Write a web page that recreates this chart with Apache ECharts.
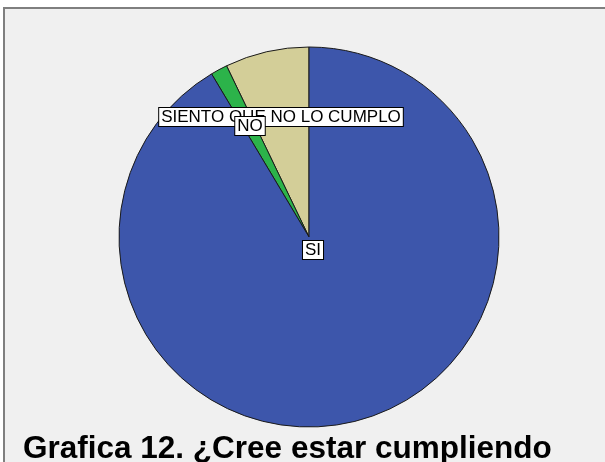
<!DOCTYPE html>
<html>
<head>
<meta charset="utf-8">
<script src="https://cdn.jsdelivr.net/npm/echarts@6/dist/echarts.min.js"></script>
<style>
html,body{margin:0;padding:0;background:#fff;}
#chart{width:605px;height:462px;}
</style>
</head>
<body>
<div id="chart"></div>
<script>
// respuestas (frecuencias), en sentido antihorario desde las 12
var categorias = ['SIENTO QUE NO LO CUMPLO', 'NO', 'SI'];
var valores = [5, 1, 64];
var colores = ['#d3ce98', '#2cb34a', '#3d56ab'];
// desplazamiento de cada etiqueta desde el centro del pastel
var desplaz = [[-28, -120], [-59, -111], [4, 13]];

var datos = [];
for (var i = 0; i < categorias.length; i++) {
    datos.push({
        name: categorias[i],
        value: valores[i],
        itemStyle: {color: colores[i]},
        label: {offset: desplaz[i]}
    });
}

var chart = echarts.init(document.getElementById('chart'));
var option = {
    animation: false,
    backgroundColor: '#ffffff',
    graphic: [{
        type: 'rect',
        z: -10,
        shape: {x: 4, y: 8, width: 640, height: 500},
        style: {fill: '#f0f0f0', stroke: '#7f7f7f', lineWidth: 2}
    }],
    title: {
        text: 'Grafica 12. ¿Cree estar cumpliendo',
        left: 18,
        top: 428,
        textStyle: {
            fontFamily: 'Liberation Sans, Arial',
            fontSize: 31.5,
            fontWeight: 'bold',
            color: '#000'
        }
    },
    series: [{
        type: 'pie',
        center: [309, 237],
        radius: 190,
        startAngle: 90,
        clockwise: false,
        avoidLabelOverlap: false,
        minShowLabelAngle: 0,
        emphasis: {disabled: true},
        itemStyle: {borderColor: '#1a1a1a', borderWidth: 1},
        label: {
            show: true,
            position: 'center',
            formatter: '{b}',
            overflow: 'none',
            fontFamily: 'Liberation Sans, Arial',
            fontSize: 17,
            color: '#000',
            backgroundColor: '#fff',
            borderColor: '#000',
            borderWidth: 1,
            padding: [1, 2, 0, 2]
        },
        labelLayout: {hideOverlap: false},
        labelLine: {show: false},
        data: datos
    }]
};
chart.setOption(option);
</script>
</body>
</html>
